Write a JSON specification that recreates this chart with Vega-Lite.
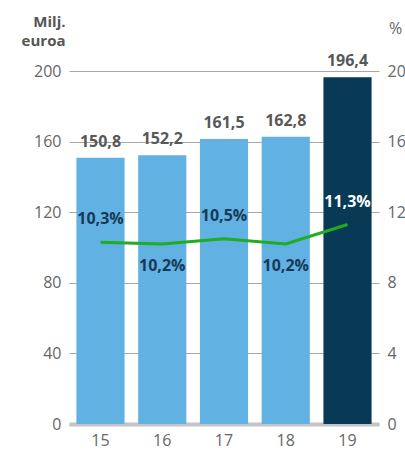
{
  "$schema": "https://vega.github.io/schema/vega-lite/v6.json",
  "width": 310,
  "height": 353,
  "autosize": {"type": "none"},
  "padding": {"left": 69, "top": 71, "right": 26, "bottom": 33},
  "background": "white",
  "config": {
    "view": {"stroke": null},
    "font": "Open Sans",
    "locale": {"number": {"decimal": ",", "thousands": " ", "grouping": [3], "currency": ["", " €"], "percent": "%"}}
  },
  "data": {
    "values": [
      {"year": "15", "revenue": 150.8, "pct": 10.3},
      {"year": "16", "revenue": 152.2, "pct": 10.2},
      {"year": "17", "revenue": 161.5, "pct": 10.5},
      {"year": "18", "revenue": 162.8, "pct": 10.2},
      {"year": "19", "revenue": 196.4, "pct": 11.3}
    ]
  },
  "transform": [{"calculate": "datum.pct / 100", "as": "rate"}],
  "encoding": {
    "x": {
      "field": "year", "type": "ordinal",
      "scale": {"paddingInner": 0.22, "paddingOuter": 0.12},
      "axis": {
        "title": null, "labelAngle": 0, "ticks": false,
        "domainColor": "#c4c4c4", "domainWidth": 4,
        "labelFontSize": 16, "labelColor": "#666666", "labelPadding": 8
      }
    }
  },
  "layer": [
    {
      "layer": [
        {
          "mark": {"type": "bar"},
          "encoding": {
            "y": {
              "field": "revenue", "type": "quantitative",
              "scale": {"domain": [0, 200]},
              "axis": {
                "values": [0, 40, 80, 120, 160, 200],
                "title": ["Milj.", "euroa"],
                "titleAngle": 0, "titleAlign": "right", "titleBaseline": "top",
                "titleX": -4, "titleY": -57, "titleFontSize": 15, "titleFontWeight": "bold",
                "titleColor": "#555555", "titleLineHeight": 19,
                "domain": false, "ticks": false,
                "gridColor": "#a8a8a8", "gridWidth": 1,
                "labelFontSize": 16, "labelColor": "#666666", "labelPadding": 8
              }
            },
            "color": {
              "condition": {"test": "datum.year === '19'", "value": "#083a55"},
              "value": "#62b1e3"
            }
          }
        },
        {
          "mark": {"type": "text", "baseline": "bottom", "dy": -8, "fontSize": 16, "fontWeight": "bold", "color": "#585858"},
          "encoding": {
            "y": {"field": "revenue", "type": "quantitative"},
            "text": {"field": "revenue", "type": "quantitative", "format": ".1f"}
          }
        }
      ]
    },
    {
      "layer": [
        {
          "mark": {"type": "line", "color": "#1fae1f", "strokeWidth": 3},
          "encoding": {
            "y": {
              "field": "pct", "type": "quantitative",
              "scale": {"domain": [0, 20]},
              "axis": {
                "orient": "right",
                "values": [0, 4, 8, 12, 16, 20],
                "grid": false, "domain": false, "ticks": false,
                "title": "%", "titleAngle": 0, "titleAlign": "center", "titleBaseline": "middle",
                "titleX": 16, "titleY": -43, "titleFontSize": 16, "titleFontWeight": "normal",
                "titleColor": "#666666",
                "labelFontSize": 16, "labelColor": "#666666", "labelPadding": 8
              }
            }
          }
        },
        {
          "transform": [{"filter": {"field": "year", "oneOf": ["15", "17", "19"]}}],
          "mark": {"type": "text", "baseline": "middle", "dy": -23, "fontSize": 16, "fontWeight": "bold"},
          "encoding": {
            "y": {"field": "pct", "type": "quantitative"},
            "text": {"field": "rate", "type": "quantitative", "format": ".1%"},
            "color": {
              "condition": {"test": "datum.year === '19'", "value": "#ffffff"},
              "value": "#173a57"
            }
          }
        },
        {
          "transform": [{"filter": {"field": "year", "oneOf": ["16", "18"]}}],
          "mark": {"type": "text", "baseline": "middle", "dy": 22, "fontSize": 16, "fontWeight": "bold", "color": "#173a57"},
          "encoding": {
            "y": {"field": "pct", "type": "quantitative"},
            "text": {"field": "rate", "type": "quantitative", "format": ".1%"}
          }
        }
      ]
    }
  ],
  "resolve": {"scale": {"y": "independent"}}
}
